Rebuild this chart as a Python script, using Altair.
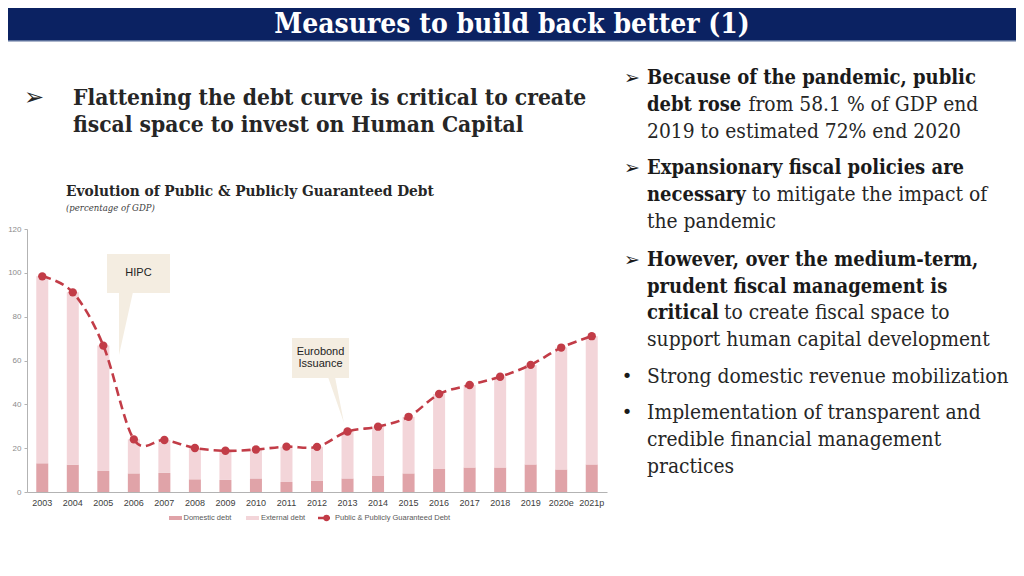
import altair as alt
import pandas as pd

# ---------------- data ----------------
years = ["2003", "2004", "2005", "2006", "2007", "2008", "2009", "2010", "2011", "2012",
         "2013", "2014", "2015", "2016", "2017", "2018", "2019", "2020e", "2021p"]
domestic = [13.1, 12.5, 9.6, 8.5, 8.7, 5.8, 5.5, 6.2, 4.6, 5.2,
            6.2, 7.3, 8.5, 10.5, 11.2, 11.2, 12.6, 10.3, 12.6]
external = [85.3, 78.6, 57.2, 15.5, 15.0, 14.3, 13.3, 13.2, 16.1, 15.4,
            21.4, 22.5, 25.8, 34.2, 37.6, 41.4, 45.4, 55.6, 58.5]
ppg_debt = [98.4, 91.1, 66.8, 24.0, 23.7, 20.1, 18.8, 19.4, 20.7, 20.6,
            27.6, 29.8, 34.3, 44.7, 48.8, 52.6, 58.0, 65.9, 71.1]
series_names = ["Domestic debt", "External debt", "Public & Publicly Guaranteed Debt"]
y_ticks = [0, 20, 40, 60, 80, 100, 120]

slide_title = "Measures to build back better (1)"
left_heading = ["Flattening the debt curve is critical to create",
                "fiscal space to invest  on Human Capital"]
chart_title = "Evolution of Public & Publicly Guaranteed Debt"
chart_subtitle = "(percentage of GDP)"
callouts = [["HIPC"], ["Eurobond", "Issuance"]]
# right column: (bold part, regular part)
right_lines = [
    ("Because of the pandemic, public", ""),
    ("debt rose", "from 58.1 % of GDP end"),
    ("", "2019 to estimated 72% end 2020"),
    ("Expansionary fiscal policies are", ""),
    ("necessary", "to mitigate the impact of"),
    ("", "the pandemic"),
    ("However, over the medium-term,", ""),
    ("prudent fiscal management is", ""),
    ("critical", "to create fiscal space to"),
    ("", "support human capital development"),
    ("", "Strong domestic revenue mobilization"),
    ("", "Implementation of transparent and"),
    ("", "credible financial management"),
    ("", "practices"),
]

# ---------------- styles ----------------
C_DOM = "#e0a3a8"
C_EXT = "#f3d5d9"
C_LINE = "#c23c47"
C_BOX = "#f4ede1"
NAVY = "#0b2262"
SERIF = "DejaVu Serif Condensed, DejaVu Serif"
SANS = "Liberation Sans, Arial"
TXT = "#262626"

# plot origin in page coords: (27, 229); page margin 8
OX, OY = 27, 229
W, H = 580, 263

def px(x):
    return x - OX

def py(y):
    return y - OY

one = pd.DataFrame({"_": [0]})

def text(s, x, y, size, weight="normal", color=TXT, font=SERIF, align="left",
         style="normal", baseline="middle"):
    return alt.Chart(one).mark_text(
        text=s, fontSize=size, fontWeight=weight, color=color, font=font,
        align=align, baseline=baseline, fontStyle=style
    ).encode(x=alt.value(px(x)), y=alt.value(py(y)))

def rect(x1, y1, x2, y2, color):
    return alt.Chart(one).mark_rect(color=color).encode(
        x=alt.value(px(x1)), x2=alt.value(px(x2)),
        y=alt.value(py(y1)), y2=alt.value(py(y2)))

def tri(pts, color):
    df = pd.DataFrame(pts, columns=["x", "y", "y2"])
    df["x"] = df["x"] - OX
    df["y"] = df["y"] - OY
    df["y2"] = df["y2"] - OY
    return alt.Chart(df).mark_area(color=color, interpolate="linear").encode(
        x=alt.X("x:Q", scale=None, axis=None),
        y=alt.Y("y:Q", scale=None, axis=None),
        y2="y2:Q")

# ---------------- chart ----------------
bar_rows = []
for i, yr in enumerate(years):
    bar_rows.append({"year": yr, "series": series_names[0], "value": domestic[i], "ord": 0})
    bar_rows.append({"year": yr, "series": series_names[1], "value": external[i], "ord": 1})
bars_df = pd.DataFrame(bar_rows)
line_df = pd.DataFrame({"year": years, "value": ppg_debt})

xenc = alt.X("year:N", sort=years, title=None,
             scale=alt.Scale(paddingInner=0.6, paddingOuter=0.3),
             axis=alt.Axis(labelAngle=0, ticks=False, domainColor="#b3b3b3",
                           labelFont=SANS, labelFontSize=9, labelColor="#404040",
                           labelPadding=6))
yscale = alt.Scale(domain=[0, 120], nice=False)

bars = alt.Chart(bars_df).mark_bar(size=12).encode(
    x=xenc,
    y=alt.Y("value:Q", stack="zero", scale=yscale, title=None,
            axis=alt.Axis(values=y_ticks, grid=False, tickSize=3, tickColor="#b3b3b3",
                          domainColor="#b3b3b3", labelFont=SANS, labelFontSize=8,
                          labelColor="#8c8c8c", labelPadding=3)),
    color=alt.Color("series:N", scale=alt.Scale(domain=series_names[:2], range=[C_DOM, C_EXT]),
                    legend=None),
    order=alt.Order("ord:Q"),
)

line = alt.Chart(line_df).mark_line(interpolate="cardinal", strokeDash=[9, 5],
                                    strokeWidth=2.6, color=C_LINE).encode(
    x=alt.X("year:N", sort=years), y=alt.Y("value:Q", scale=yscale))
points = alt.Chart(line_df).mark_point(filled=True, size=70, opacity=1, color=C_LINE).encode(
    x=alt.X("year:N", sort=years), y=alt.Y("value:Q", scale=yscale))

# callouts
hipc = [
    rect(107, 254, 170, 293, C_BOX),
    tri([(119, 292, 355), (133, 292, 292)], C_BOX),
    text(callouts[0][0], 138.5, 273, 11, font=SANS, align="center", color="#222222"),
]
euro = [
    rect(292, 338, 349, 378, C_BOX),
    tri([(328, 377, 377), (335, 377, 397), (344, 423, 423)], C_BOX),
    text(callouts[1][0], 320.5, 351.5, 11, font=SANS, align="center", color="#222222"),
    text(callouts[1][1], 320.5, 364, 11, font=SANS, align="center", color="#222222"),
]

# legend (manual)
LY = 518
legend = [
    rect(169, LY - 2, 182, LY + 2, C_DOM),
    text(series_names[0], 183.5, LY, 7.5, font=SANS, color="#595959"),
    rect(246, LY - 2, 259, LY + 2, C_EXT),
    text(series_names[1], 261, LY, 7.5, font=SANS, color="#595959"),
    alt.Chart(one).mark_rule(color=C_LINE, strokeWidth=2.5).encode(
        x=alt.value(px(318)), x2=alt.value(px(330)), y=alt.value(py(LY)), y2=alt.value(py(LY))),
    alt.Chart(one).mark_point(filled=True, size=40, opacity=1, color=C_LINE).encode(
        x=alt.value(px(326.5)), y=alt.value(py(LY))),
    text(series_names[2], 335, LY, 7.5, font=SANS, color="#595959"),
]

# slide decorations
deco = [
    rect(0, 0, 1024, 40, NAVY),
    rect(0, 40, 1024, 41.5, "#5b6f9a"),
    text(slide_title, 512, 25, 28, weight="bold", color="#ffffff", align="center"),
    text("\u27a2", 34, 98, 24, font="DejaVu Sans", color=TXT, align="center"),
    text(left_heading[0], 73, 98, 22.6, weight="bold"),
    text(left_heading[1], 73, 125, 22.6, weight="bold"),
    text(chart_title, 66, 191, 15.3, weight="bold"),
    text(chart_subtitle, 66, 208, 9.5, style="italic", color="#404040"),
]

line_y = [78.3, 105, 131.7, 168.3, 195, 221.7, 260, 286.7, 313.3, 340,
          376.7, 412.7, 440, 466.7]
reg_x = {1: 748.5, 4: 752, 8: 724}
arrow_rows = [0, 3, 6]
dot_rows = [10, 11]
right = []
for i, (b, r) in enumerate(right_lines):
    yy = line_y[i]
    if b:
        right.append(text(b, 647, yy, 20, weight="bold", color="#1a1a1a"))
    if r:
        right.append(text(r, reg_x.get(i, 647), yy, 20.8, color="#262626"))
    if i in arrow_rows:
        right.append(text("\u27a2", 632, yy, 19, font="DejaVu Sans", color="#1a1a1a", align="center"))
    if i in dot_rows:
        right.append(text("\u2022", 627, yy, 18, font="DejaVu Sans", color="#1a1a1a", align="center"))

chart = alt.layer(
    bars, *hipc, *euro, line, points, *legend, *deco, *right
).properties(
    width=W, height=H,
    autosize=alt.AutoSizeParams(type="none"),
    padding={"left": OX - 8, "top": OY - 8, "right": 1016 - (OX + W), "bottom": 568 - (OY + H)},
).configure_view(stroke=None)

chart.save("out.html", embed_options={"renderer": "svg", "actions": False})
